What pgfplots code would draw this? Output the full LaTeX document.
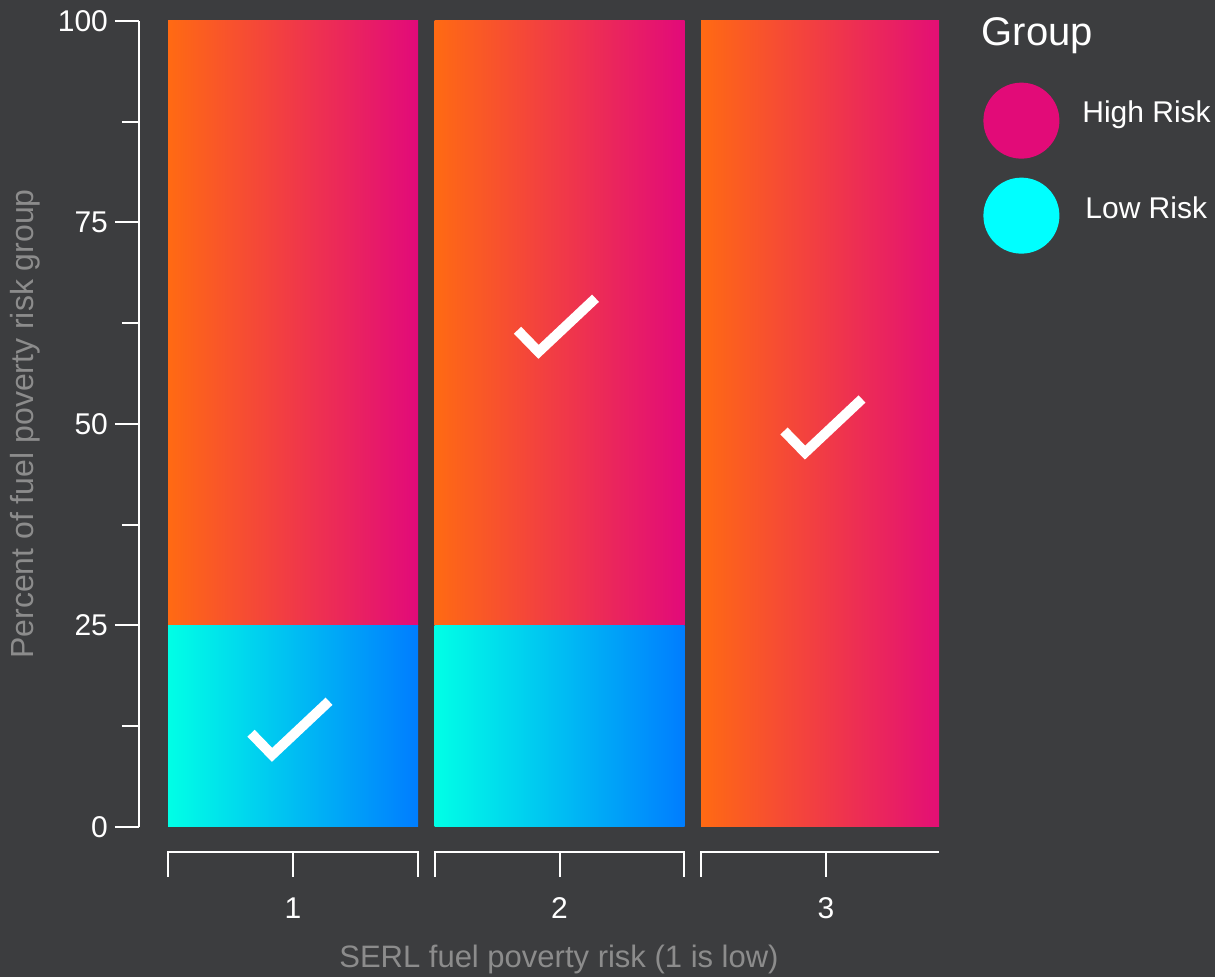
\documentclass[border=0pt]{standalone}
\usepackage{fontspec}
\setmainfont{Liberation Sans}
\usepackage{pgfplots}
\pgfplotsset{compat=1.18}
\definecolor{bg}{RGB}{60,61,63}
\definecolor{hiL}{RGB}{255,106,19}
\definecolor{hiR}{RGB}{226,10,122}
\definecolor{loL}{RGB}{0,255,230}
\definecolor{loR}{RGB}{0,125,255}
\definecolor{lab}{RGB}{140,140,140}
\definecolor{legHi}{RGB}{226,11,120}
\definecolor{legLo}{RGB}{0,255,255}

\pgfdeclareplotmark{check}{%
  \pgfpathmoveto{\pgfpoint{-21pt}{-3.5pt}}%
  \pgfpathlineto{\pgfpoint{-10.5pt}{-14.3pt}}%
  \pgfpathlineto{\pgfpoint{18pt}{12.5pt}}%
  \pgfusepathqstroke}

\pgfplotsset{
  common/.style={
    at={(0,0)}, anchor=south west,
    scale only axis, width=400pt, height=403pt,
    xmin=0.422, xmax=3.424, ymin=0, ymax=100,
  },
  facet/.style={common, hide axis, ybar stacked, bar width=0.938, clip=true},
  lowbar/.style={draw=none, left color=loL, right color=loR},
  highbar/.style={draw=none, left color=hiL, right color=hiR},
}

\begin{document}
\begin{tikzpicture}
\fill[bg] (-69.5pt,-75pt) rectangle (538pt,413.5pt);
\path[use as bounding box] (-69.5pt,-75pt) rectangle (538pt,413.5pt);
% facet 1 (carries the y axis and the labels)
\begin{axis}[
  common,
  ybar stacked, bar width=0.938,
  axis y line*=left, axis x line*=bottom,
  x axis line style={draw=none},
  y axis line style={white, line width=1pt},
  ytick={0,25,50,75,100},
  minor ytick={12.5,37.5,62.5,87.5},
  tick align=outside,
  major tick length=12pt, minor tick length=8.5pt,
  ytick style={white, line width=1pt},
  minor y tick style={white, line width=1pt},
  xtick={1,2,3}, xtick style={draw=none},
  tick label style={font=\fontsize{15}{18}\selectfont, text=white},
  /pgf/number format/assume math mode=true,
  xticklabel style={anchor=center, yshift=-28.5pt},
  xlabel={SERL fuel poverty risk (1 is low)},
  xlabel style={at={(axis description cs:0.525,-0.164)}, anchor=center, text=lab, font=\fontsize{15.5}{18}\selectfont},
  ylabel={Percent of fuel poverty risk group},
  ylabel style={at={(axis description cs:-0.1425,0.5)}, anchor=center, text=lab, font=\fontsize{16}{18}\selectfont},
  clip=true,
]
\addplot[lowbar] coordinates {(1,25)};
\addplot[highbar] coordinates {(1,75)};
\end{axis}
% facet 2
\begin{axis}[facet]
\addplot[lowbar] coordinates {(2,25)};
\addplot[highbar] coordinates {(2,75)};
\end{axis}
% facet 3 (no low-risk share)
\begin{axis}[facet]
\addplot[draw=none, fill=none] coordinates {(3,0)};
\addplot[highbar] coordinates {(3,100)};
\end{axis}
% check marks, legend, facet brackets
\begin{axis}[
  common,
  hide axis, clip=false,
  legend style={at={(axis description cs:1.055,0.924)}, anchor=north west, draw=none, fill=none,
    text=white, font=\fontsize{15}{18}\selectfont, inner sep=0pt, row sep=9.5pt,
    nodes={inner sep=0pt}, /tikz/every odd column/.style={column sep=11.5pt}},
  legend cell align=left,
  legend image code/.code={\fill[#1] (19pt,0pt) circle[radius=19pt];},
]
\addplot[forget plot, only marks, mark=check, mark options={white, line width=5pt, line cap=butt, line join=miter}] coordinates {(1,12.5) (2,62.5) (3,50)};
\addlegendimage{draw=none, fill=legHi}
\addlegendentry[yshift=4pt]{High Risk}
\addlegendimage{draw=none, fill=legLo}
\addlegendentry[yshift=3.5pt, xshift=1.5pt]{Low Risk}
\node[anchor=west, text=white, font=\fontsize{20}{24}\selectfont, inner sep=0pt] at (axis description cs:1.053,0.982) {Group};
\draw[white, line width=1pt] ([yshift=-25pt]axis cs:0.5308,0) -- ([yshift=-12.5pt]axis cs:0.5308,0) -- ([yshift=-12.5pt]axis cs:1.469,0) -- ([yshift=-25pt]axis cs:1.469,0);
\draw[white, line width=1pt] ([yshift=-12.5pt]axis cs:1,0) -- ([yshift=-25pt]axis cs:1,0);
\draw[white, line width=1pt] ([yshift=-25pt]axis cs:1.533,0) -- ([yshift=-12.5pt]axis cs:1.533,0) -- ([yshift=-12.5pt]axis cs:2.467,0) -- ([yshift=-25pt]axis cs:2.467,0);
\draw[white, line width=1pt] ([yshift=-12.5pt]axis cs:2,0) -- ([yshift=-25pt]axis cs:2,0);
\draw[white, line width=1pt] ([yshift=-25pt]axis cs:2.531,0) -- ([yshift=-12.5pt]axis cs:2.531,0) -- ([yshift=-12.5pt]axis cs:3.424,0);
\draw[white, line width=1pt] ([yshift=-12.5pt]axis cs:3,0) -- ([yshift=-25pt]axis cs:3,0);
\end{axis}
\end{tikzpicture}
\end{document}
